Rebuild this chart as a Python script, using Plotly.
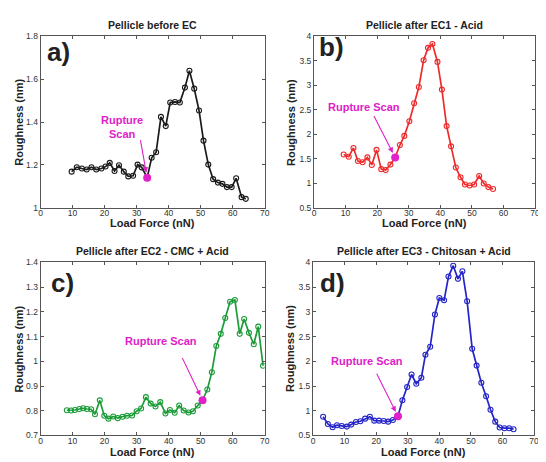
import plotly.graph_objects as go

# ---------------- data ----------------
titles = ["Pellicle before EC", "Pellicle after EC1 - Acid",
          "Pellicle after EC2 - CMC + Acid", "Pellicle after EC3 - Chitosan + Acid"]
panel_labels = ["a)", "b)", "c)", "d)"]
x_title = "Load Force (nN)"
y_title = "Roughness (nm)"

a_x = [9.7, 11.3, 12.9, 14.4, 15.9, 17.4, 19.0, 20.3, 21.6, 23.1, 24.5, 26.0, 27.4, 28.9, 30.3, 31.6, 33.3,
       34.7, 36.1, 37.6, 39.1, 40.5, 42.0, 43.5, 45.1, 46.5, 48.0, 49.5, 50.9, 52.4, 53.9, 55.4, 56.8,
       58.2, 59.7, 61.1, 62.8, 64.1]
a_y = [1.168, 1.189, 1.183, 1.178, 1.189, 1.178, 1.183, 1.192, 1.209, 1.171, 1.198, 1.168, 1.146, 1.149,
       1.201, 1.188, 1.140, 1.233, 1.259, 1.424, 1.381, 1.491, 1.494, 1.491, 1.561, 1.640, 1.556, 1.454,
       1.313, 1.201, 1.133, 1.117, 1.111, 1.096, 1.096, 1.137, 1.049, 1.041]
a_rupture = 16

b_x = [9.4, 11.0, 12.5, 13.9, 15.4, 16.9, 18.3, 19.8, 21.3, 22.7, 24.2, 25.7, 27.2, 28.6, 30.2, 31.7, 33.2,
       34.7, 36.1, 37.5, 39.1, 40.5, 42.0, 43.4, 44.9, 46.4, 47.8, 49.3, 50.7, 52.3, 53.75, 55.2, 56.7]
b_y = [1.587, 1.54, 1.72, 1.453, 1.427, 1.527, 1.373, 1.68, 1.287, 1.267, 1.38, 1.527, 1.78, 1.967, 2.267,
       2.633, 2.967, 3.513, 3.767, 3.847, 3.48, 2.913, 2.167, 1.753, 1.32, 1.12, 0.973, 0.953, 0.973, 1.147,
       0.993, 0.92, 0.88]
b_rupture = 11

c_x = [8.2, 9.5, 10.7, 12.1, 13.3, 14.5, 15.8, 17.0, 18.5, 19.9, 21.2, 22.7, 24.1, 25.6, 27.0, 28.6, 30.0,
       31.4, 32.9, 34.4, 35.9, 37.4, 39.0, 40.4, 41.9, 43.3, 44.7, 46.2, 47.6, 49.1, 50.6, 52.1, 53.5, 54.9,
       56.3, 57.7, 59.2, 60.7, 62.2, 63.6, 65.1, 66.6, 68.0, 69.5]
c_y = [0.802, 0.801, 0.803, 0.807, 0.810, 0.807, 0.806, 0.786, 0.842, 0.780, 0.768, 0.777, 0.770, 0.776,
       0.780, 0.781, 0.798, 0.809, 0.855, 0.829, 0.817, 0.835, 0.789, 0.803, 0.792, 0.821, 0.801, 0.793,
       0.798, 0.821, 0.842, 0.886, 0.956, 1.062, 1.111, 1.175, 1.241, 1.248, 1.111, 1.171, 1.115, 1.069,
       1.140, 0.982]
c_rupture = 30

d_x = [3.2, 4.7, 6.2, 7.6, 9.1, 10.7, 12.1, 13.6, 15.0, 16.5, 18.0, 19.4, 20.9, 22.4, 23.8, 25.3, 26.9,
       28.3, 29.8, 31.2, 32.7, 34.3, 35.6, 37.1, 38.6, 40.0, 41.5, 42.9, 44.4, 45.9, 47.3, 48.8, 50.4, 51.8,
       53.3, 54.8, 56.2, 57.7, 59.1, 60.6, 62.1, 63.5]
d_y = [0.88, 0.733, 0.667, 0.707, 0.693, 0.68, 0.72, 0.773, 0.787, 0.84, 0.88, 0.80, 0.80, 0.793, 0.78,
       0.813, 0.887, 1.213, 1.48, 1.733, 1.547, 1.667, 2.133, 2.293, 2.947, 3.28, 3.233, 3.713, 3.933, 3.667,
       3.82, 3.213, 2.253, 1.913, 1.567, 1.293, 1.02, 0.78, 0.66, 0.647, 0.647, 0.627]
d_rupture = 16

x_ticks = [0, 10, 20, 30, 40, 50, 60, 70]
y_ranges = [[1, 1.8], [0.5, 4], [0.7, 1.4], [0.5, 4]]
y_dticks = [0.2, 0.5, 0.1, 0.5]
rupture_texts = ["Rupture<br>Scan", "Rupture Scan", "Rupture Scan", "Rupture Scan"]

# ---------------- style ----------------
PAGE_OFF = 8                      # default body margin of the html page
W, H = 546 - PAGE_OFF, 462 - PAGE_OFF
line_colors = ["#1a1a1a", "#ee2b2b", "#1c9c38", "#2424c8"]
magenta = "#e020c8"
FONT = "Liberation Sans, Arial, sans-serif"
# pixel boxes of plot areas in the window (left, right, top, bottom)
boxes = [(39, 266, 32, 207), (316, 540, 32, 207), (39, 266, 263, 440), (315, 539, 263, 440)]
label_shift = [(4, -16), (3, -11), (8, -21), (5, -21)]
text_shift = [(-25, 51), (-31, 50), (-42, 59), (-31, 55)]
arrow_off = [(-7, -39), (-22, -43), (-21, -44), (-22, -44)]
ytitle_shift = [-22, -23, -22, -23]
xtitle_shift = [-15, -15, -17, -17]

xs = [a_x, b_x, c_x, d_x]
ys = [a_y, b_y, c_y, d_y]
rups = [a_rupture, b_rupture, c_rupture, d_rupture]

fig = go.Figure()
annotations = []
for i in range(4):
    n = "" if i == 0 else str(i + 1)
    xa, ya = "x" + n, "y" + n
    l, r, t, b = [v - PAGE_OFF for v in boxes[i]]
    fig.add_trace(go.Scatter(
        x=xs[i], y=ys[i], mode="lines+markers", xaxis=xa, yaxis=ya,
        line=dict(color=line_colors[i], width=1.7),
        marker=dict(symbol="circle-open", size=5, color=line_colors[i], line=dict(width=1.1)),
        showlegend=False))
    k = rups[i]
    rx, ry = xs[i][k], ys[i][k]
    fig.add_trace(go.Scatter(
        x=[rx], y=[ry], mode="markers", xaxis=xa, yaxis=ya,
        marker=dict(symbol="circle", size=8, color=magenta), showlegend=False))

    axis_common = dict(showgrid=False, zeroline=False, showline=True, linecolor="#555555", linewidth=1,
                       mirror="ticks", ticks="inside", ticklen=3, tickcolor="#555555",
                       tickfont=dict(family=FONT, size=8.5, color="#333333"))
    fig.layout["xaxis" + n] = dict(domain=[l / W, r / W], anchor=ya, range=[0, 70], tickvals=x_ticks,
                                   ticklabelstandoff=-3, **axis_common)
    fig.layout["yaxis" + n] = dict(domain=[1 - b / H, 1 - t / H], anchor=xa, range=y_ranges[i],
                                   dtick=y_dticks[i], tick0=0, **axis_common)

    annotations.append(dict(text="<b>" + x_title + "</b>", xref=xa + " domain", yref=ya + " domain",
                            x=0.5, y=0, xanchor="center", yanchor="middle", yshift=xtitle_shift[i],
                            showarrow=False, font=dict(family=FONT, size=11, color="#222")))
    annotations.append(dict(text="<b>" + y_title + "</b>", xref=xa + " domain", yref=ya + " domain",
                            x=0, y=0.5, xanchor="center", yanchor="middle", xshift=ytitle_shift[i],
                            textangle=-90, showarrow=False,
                            font=dict(family=FONT, size=11, color="#222")))
    annotations.append(dict(text="<b>" + titles[i] + "</b>", xref=xa + " domain", yref=ya + " domain",
                            x=0.5, y=1, xanchor="center", yanchor="bottom", yshift=3, showarrow=False,
                            font=dict(family=FONT, size=10.5, color="#222")))
    annotations.append(dict(text="<b>" + panel_labels[i] + "</b>", xref=xa + " domain", yref=ya + " domain",
                            x=0, y=1, xanchor="left", yanchor="middle", xshift=label_shift[i][0],
                            yshift=label_shift[i][1], showarrow=False,
                            font=dict(family=FONT, size=26, color="#222")))
    annotations.append(dict(text="<b>" + rupture_texts[i] + "</b>", xref=xa, yref=ya, x=rx, y=ry,
                            xshift=text_shift[i][0], yshift=text_shift[i][1], showarrow=False,
                            xanchor="center", yanchor="middle",
                            font=dict(family=FONT, size=11, color=magenta)))
    annotations.append(dict(text="", xref=xa, yref=ya, x=rx, y=ry, ax=arrow_off[i][0], ay=arrow_off[i][1],
                            showarrow=True, arrowhead=2, arrowsize=1, arrowwidth=1.1,
                            arrowcolor=magenta, standoff=5))

fig.update_layout(width=W, height=H, margin=dict(l=0, r=0, t=0, b=0),
                  paper_bgcolor="white", plot_bgcolor="white", annotations=annotations,
                  font=dict(family=FONT))
fig.write_html("out.html")
